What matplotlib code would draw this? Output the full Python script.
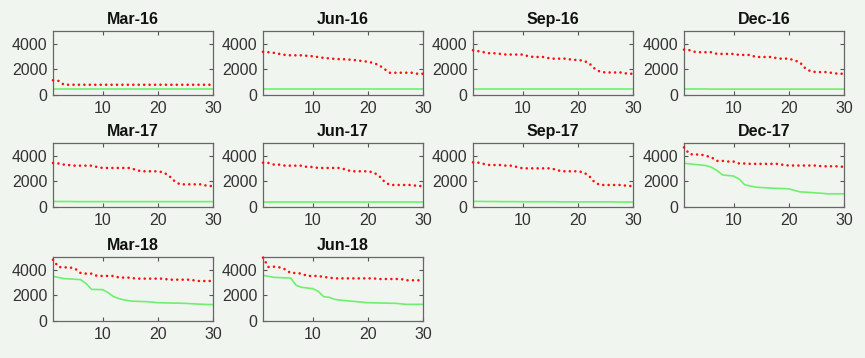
#%%

import numpy as np
from matplotlib import pyplot as plt

# ------------------------------
# Data
# ------------------------------

titles = ['Mar-16', 'Jun-16', 'Sep-16', 'Dec-16',
          'Mar-17', 'Jun-17', 'Sep-17', 'Dec-17',
          'Mar-18', 'Jun-18']

days = np.arange(1, 31)

red_mar16 = [1150, 1100, 800, 800, 800, 800, 800, 800, 800, 800,
             800, 800, 800, 800, 800, 800, 800, 800, 800, 800,
             800, 800, 800, 800, 800, 800, 800, 800, 800, 800]
red_jun16 = [3370, 3340, 3290, 3210, 3130, 3100, 3100, 3100, 3060, 3030,
             2960, 2900, 2860, 2820, 2800, 2790, 2750, 2710, 2650, 2600,
             2500, 2340, 2030, 1740, 1740, 1740, 1740, 1740, 1660, 1660]
red_sep16 = [3500, 3420, 3340, 3260, 3260, 3210, 3160, 3160, 3160, 3160,
             3030, 2970, 2970, 2970, 2840, 2840, 2840, 2840, 2740, 2740,
             2680, 2500, 2080, 1820, 1760, 1760, 1760, 1760, 1660, 1660]
red_dec16 = [3550, 3500, 3370, 3340, 3340, 3340, 3210, 3210, 3210, 3210,
             3130, 3130, 3130, 2970, 2970, 2970, 2970, 2840, 2840, 2840,
             2710, 2550, 2080, 1840, 1790, 1790, 1790, 1710, 1660, 1660]
red_mar17 = [3440, 3400, 3310, 3270, 3230, 3230, 3230, 3230, 3125, 3050,
             3050, 3050, 3050, 3050, 3050, 2900, 2790, 2790, 2790, 2790,
             2710, 2450, 2030, 1770, 1770, 1770, 1770, 1770, 1640, 1640]
red_jun17 = [3460, 3440, 3310, 3310, 3230, 3230, 3230, 3230, 3125, 3125,
             3050, 3050, 3050, 3050, 3050, 2920, 2790, 2790, 2790, 2790,
             2710, 2450, 1980, 1720, 1720, 1720, 1720, 1720, 1640, 1640]
red_sep17 = [3490, 3460, 3360, 3280, 3280, 3280, 3230, 3230, 3125, 3020,
             3020, 3020, 3020, 3020, 3020, 2920, 2790, 2790, 2790, 2790,
             2710, 2450, 1950, 1720, 1720, 1720, 1720, 1720, 1640, 1640]
red_dec17 = [4660, 4130, 4100, 4100, 4000, 3870, 3600, 3600, 3550, 3550,
             3400, 3400, 3370, 3370, 3370, 3370, 3370, 3370, 3290, 3240,
             3240, 3240, 3240, 3240, 3240, 3180, 3180, 3180, 3180, 3130]
red_mar18 = [4790, 4220, 4190, 4190, 4090, 3750, 3700, 3700, 3520, 3520,
             3520, 3520, 3390, 3390, 3390, 3310, 3310, 3310, 3310, 3310,
             3310, 3230, 3230, 3230, 3230, 3230, 3125, 3125, 3125, 3125]
red_jun18 = [4950, 4220, 4240, 4190, 4040, 3750, 3750, 3700, 3520, 3520,
             3520, 3440, 3390, 3330, 3330, 3330, 3330, 3330, 3330, 3330,
             3330, 3280, 3280, 3280, 3280, 3280, 3180, 3180, 3180, 3180]

green_mar16 = [430, 430, 430, 430, 430, 430, 430, 430, 430, 430,
               430, 430, 430, 430, 430, 430, 430, 430, 430, 430,
               430, 430, 430, 430, 430, 430, 430, 430, 430, 430]
green_jun16 = [440, 440, 440, 440, 440, 440, 440, 440, 440, 440,
               440, 440, 440, 440, 440, 440, 440, 440, 440, 440,
               440, 440, 440, 440, 440, 440, 440, 440, 440, 440]
green_sep16 = [440, 440, 440, 440, 440, 440, 440, 440, 440, 440,
               440, 440, 440, 440, 440, 440, 440, 440, 440, 440,
               440, 440, 440, 440, 440, 440, 440, 440, 440, 440]
green_dec16 = [470, 470, 470, 470, 470, 460, 460, 460, 460, 460,
               460, 460, 460, 460, 460, 460, 460, 460, 460, 460,
               460, 460, 460, 460, 460, 460, 460, 460, 460, 460]
green_mar17 = [430, 430, 430, 430, 420, 420, 420, 420, 420, 420,
               420, 420, 420, 420, 420, 420, 420, 420, 420, 420,
               420, 420, 420, 420, 420, 420, 420, 420, 420, 420]
green_jun17 = [420, 420, 420, 420, 420, 420, 420, 420, 420, 420,
               420, 420, 420, 420, 420, 420, 420, 420, 420, 420,
               420, 420, 420, 420, 420, 420, 420, 420, 420, 420]
green_sep17 = [440, 440, 430, 430, 430, 420, 420, 420, 420, 410,
               410, 410, 410, 410, 410, 410, 400, 400, 400, 400,
               400, 400, 400, 400, 400, 400, 390, 390, 390, 390]
green_dec17 = [3420, 3370, 3320, 3280, 3240, 3100, 2840, 2500, 2460, 2420,
               2180, 1740, 1640, 1550, 1520, 1500, 1470, 1450, 1440, 1420,
               1300, 1180, 1160, 1130, 1100, 1070, 1030, 1030, 1030, 1030]
green_mar18 = [3490, 3400, 3310, 3290, 3260, 3230, 2920, 2470, 2460, 2450,
               2210, 1900, 1745, 1640, 1560, 1540, 1520, 1510, 1470, 1430,
               1420, 1410, 1400, 1390, 1380, 1350, 1330, 1310, 1290, 1280]
green_jun18 = [3570, 3490, 3410, 3390, 3370, 3360, 2790, 2630, 2580, 2530,
               2320, 1900, 1850, 1690, 1630, 1590, 1550, 1510, 1470, 1430,
               1420, 1410, 1400, 1390, 1380, 1340, 1300, 1300, 1300, 1300]

red_series = [red_mar16, red_jun16, red_sep16, red_dec16, red_mar17,
              red_jun17, red_sep17, red_dec17, red_mar18, red_jun18]
green_series = [green_mar16, green_jun16, green_sep16, green_dec16, green_mar17,
                green_jun17, green_sep17, green_dec17, green_mar18, green_jun18]

# ------------------------------
# Figure
# ------------------------------

bg = '#f0f6ef'
W, H = 865, 358
plt.rcParams['font.family'] = ['Liberation Sans', 'DejaVu Sans']

fig = plt.figure(figsize=(W / 100, H / 100), dpi=100, facecolor=bg)

col_left = [53, 263, 473, 684]
row_top = [31, 143, 257]
ax_w, ax_h = 160, 64

for i, (title, red, green) in enumerate(zip(titles, red_series, green_series)):
    r, c = divmod(i, 4)
    left = col_left[c] / W
    bottom = 1 - (row_top[r] + ax_h) / H
    ax = fig.add_axes([left, bottom, ax_w / W, ax_h / H])
    ax.set_facecolor(bg)

    ax.plot(days, green, color='#6ef06e', lw=1.2, zorder=2)
    # MATLAB-style 'r:' line: round dots at a fixed spacing along the path
    ax.plot(days, red, color='#ff1010', lw=1.9, zorder=3, clip_on=False,
            linestyle=(0, (0.01, 2.05)), dash_capstyle='round')

    ax.set_xlim(1, 30)
    ax.set_ylim(0, 5000)
    ax.set_xticks([10, 20, 30])
    ax.set_yticks([0, 2000, 4000])
    ax.tick_params(direction='in', length=3, width=0.8, color='#555555',
                   labelsize=11.5, labelcolor='#333333', top=True, right=True,
                   pad=4)
    for sp in ax.spines.values():
        sp.set_color('#666666')
        sp.set_linewidth(0.9)
    ax.set_title(title, fontsize=11.5, fontweight='bold', pad=5, color='#111111')

fig.savefig('out.png', dpi=100, facecolor=bg)
